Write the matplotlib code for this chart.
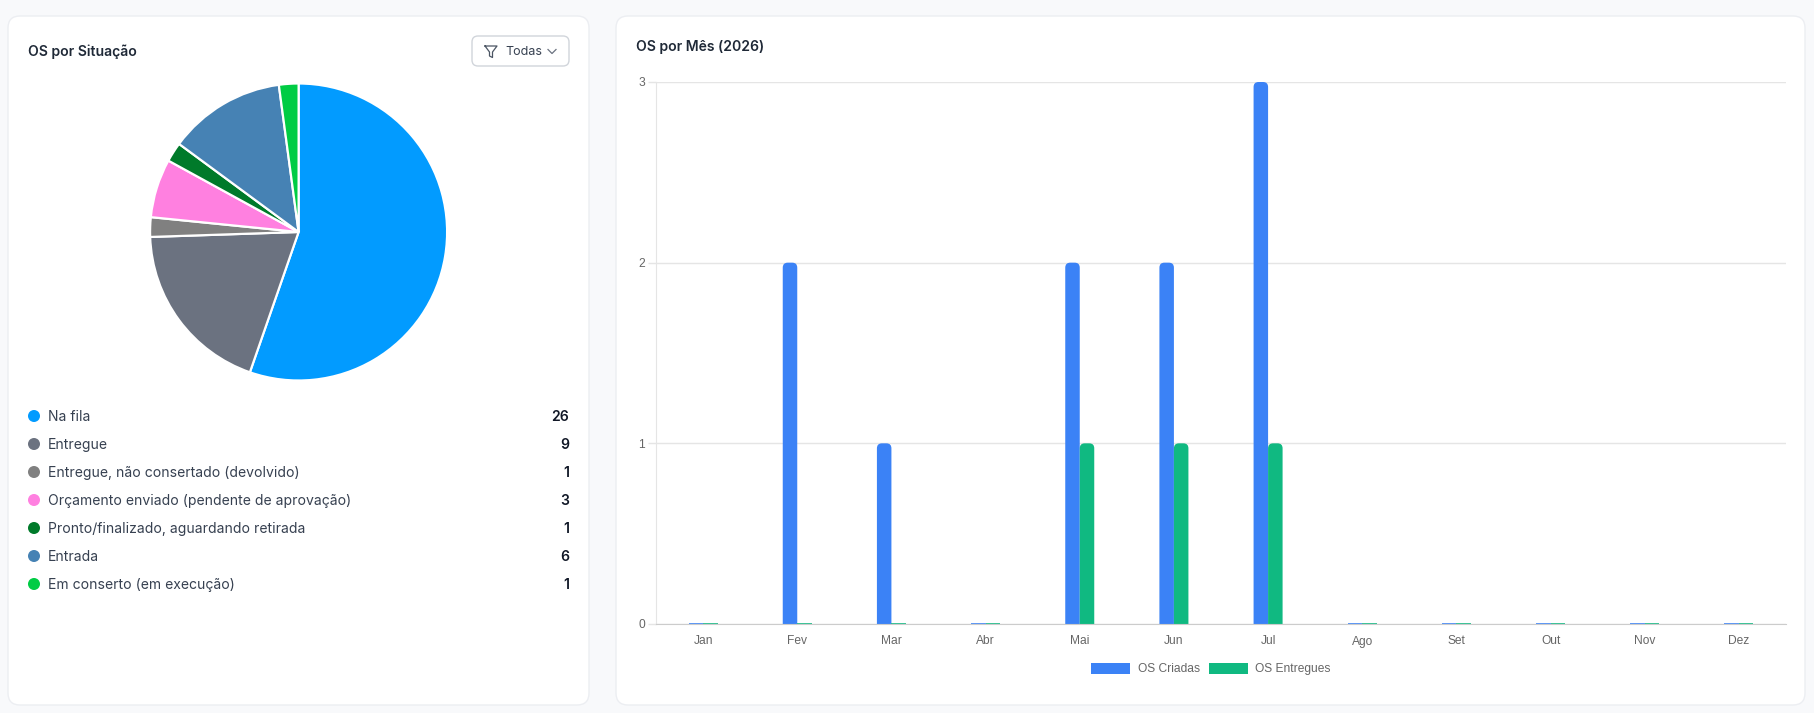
import matplotlib
matplotlib.use("Agg")
import matplotlib.pyplot as plt
from matplotlib.patches import FancyBboxPatch, Patch, Circle

W, H = 1815, 713
DPI = 100

# ---- data ----
situacoes = [
    "Na fila",
    "Entregue",
    "Entregue, não consertado (devolvido)",
    "Orçamento enviado (pendente de aprovação)",
    "Pronto/finalizado, aguardando retirada",
    "Entrada",
    "Em conserto (em execução)",
]
situacao_counts = [26, 9, 1, 3, 1, 6, 1]
situacao_colors = ["#029bff", "#6b7280", "#808080", "#ff80e0", "#007a2a", "#4682b4", "#00cc44"]

meses = ["Jan", "Fev", "Mar", "Abr", "Mai", "Jun", "Jul", "Ago", "Set", "Out", "Nov", "Dez"]
os_criadas = [0, 2, 1, 0, 2, 2, 3, 0, 0, 0, 0, 0]
os_entregues = [0, 0, 0, 0, 1, 1, 1, 0, 0, 0, 0, 0]
y_ticks = [0, 1, 2, 3]

BLUE = "#3b82f6"
GREEN = "#10b981"
UI_FONT = ["Inter", "DejaVu Sans"]
CHART_FONT = ["Liberation Sans", "DejaVu Sans"]


def pt(px):
    return px * 72.0 / DPI


def rect(x0, y0, x1, y1):
    # pixel box (top-left origin) -> figure fraction
    return [x0 / W, 1 - y1 / H, (x1 - x0) / W, (y1 - y0) / H]


fig = plt.figure(figsize=(W / DPI, H / DPI), dpi=DPI)
fig.patch.set_facecolor("#f8f9fb")

# ---- background cards ----
bg = fig.add_axes([0, 0, 1, 1], zorder=-1)
bg.set_xlim(0, W)
bg.set_ylim(H, 0)
bg.axis("off")
for (x0, y0, x1, y1) in [(8, 16, 589, 705), (616, 16, 1805, 705)]:
    bg.add_patch(FancyBboxPatch((x0, y0), x1 - x0, y1 - y0,
                                boxstyle="round,pad=0,rounding_size=12",
                                facecolor="white", edgecolor="#eceef2", linewidth=1))

bg.text(28, 52, "OS por Situação", fontsize=pt(14), fontweight="semibold",
        color="#1f2937", va="center", ha="left", family=UI_FONT)
bg.text(636, 47, "OS por Mês (2026)", fontsize=pt(14), fontweight="semibold",
        color="#1f2937", va="center", ha="left", family=UI_FONT)

# filter button
bg.add_patch(FancyBboxPatch((472, 36), 97, 30, boxstyle="round,pad=0,rounding_size=6",
                            facecolor="white", edgecolor="#d1d5db", linewidth=1))
fx = [485, 497, 492.5, 492.5, 489.5, 489.5, 485]
fy = [46, 46, 52, 57.5, 56, 52, 46]
bg.plot(fx, fy, color="#4b5563", linewidth=0.9, solid_joinstyle="round")
bg.text(505, 52, "Todas", fontsize=pt(12.5), color="#374151", va="center", ha="left", family=UI_FONT)
bg.plot([548, 552, 556], [49.5, 53.5, 49.5], color="#6b7280", linewidth=0.9)

# legend list for the pie
row_y0, row_step = 417, 28
for i, (lab, val, col) in enumerate(zip(situacoes, situacao_counts, situacao_colors)):
    yy = row_y0 + i * row_step
    bg.add_patch(Circle((34, yy - 1), 6, facecolor=col, edgecolor="none"))
    bg.text(48, yy, lab, fontsize=pt(14), color="#374151", va="center", ha="left", family=UI_FONT)
    bg.text(569, yy, str(val), fontsize=pt(14), fontweight="semibold", color="#111827",
            va="center", ha="right", family=UI_FONT)

# ---- pie ----
cx, cy, r = 298.6, 232, 148.5
ax_pie = fig.add_axes(rect(cx - r, cy - r, cx + r, cy + r))
ax_pie.pie(situacao_counts, colors=situacao_colors, startangle=90, counterclock=False,
           radius=1, wedgeprops=dict(edgecolor="white", linewidth=pt(2.2)))
ax_pie.set_xlim(-1.0, 1.0)
ax_pie.set_ylim(-1.0, 1.0)
ax_pie.set_aspect("equal")
ax_pie.axis("off")
for p in ax_pie.patches:
    p.set_clip_on(False)

# ---- bar chart ----
ax = fig.add_axes(rect(656, 82, 1786, 624))
ax.set_facecolor("none")
x = list(range(len(meses)))
bw = 0.154
bars_c = ax.bar([i - bw / 2 for i in x], os_criadas, bw, color=BLUE, linewidth=0)
bars_e = ax.bar([i + bw / 2 for i in x], os_entregues, bw, color=GREEN, linewidth=0)
ax.set_xlim(-0.5, len(meses) - 0.5)
ax.set_ylim(0, 3)

px_x = 1.0 / (1130 / len(meses))
px_y = 3.0 / 542
rad = 5
for bars, col in [(bars_c, BLUE), (bars_e, GREEN)]:
    for b in bars:
        h = b.get_height()
        b.set_visible(False)
        if h > 0:
            ax.add_patch(FancyBboxPatch((b.get_x(), -rad * px_y), b.get_width(), h + rad * px_y,
                                        boxstyle="round,pad=0,rounding_size=%f" % (rad * px_x),
                                        mutation_aspect=px_y / px_x,
                                        facecolor=col, edgecolor="none", zorder=2))
        else:
            ax.plot([b.get_x(), b.get_x() + b.get_width()], [0, 0], color=col,
                    linewidth=1.2, solid_capstyle="butt", clip_on=False, zorder=2)

ax.set_yticks(y_ticks)
ax.set_yticklabels([str(v) for v in y_ticks], family=CHART_FONT)
ax.set_xticks(x)
ax.set_xticklabels(meses, family=CHART_FONT)
ax.grid(axis="y", color="#e5e5e5", linewidth=1)
ax.set_axisbelow(True)
ax.tick_params(axis="y", length=pt(8), width=1, color="#e5e5e5", pad=pt(3),
               labelsize=pt(12), labelcolor="#666666")
ax.tick_params(axis="x", length=0, pad=pt(11.5), labelsize=pt(12), labelcolor="#666666")
for s in ["top", "right"]:
    ax.spines[s].set_visible(False)
ax.spines["left"].set_color("#e5e5e5")
ax.spines["bottom"].set_color("#cccccc")

handles = [Patch(facecolor=BLUE, label="OS Criadas"), Patch(facecolor=GREEN, label="OS Entregues")]
leg = ax.legend(handles=handles, loc="center", bbox_to_anchor=(1211 / W, 1 - 669 / H),
                bbox_transform=fig.transFigure, ncol=2, frameon=False,
                prop=dict(family=CHART_FONT, size=pt(12)),
                handlelength=3.25, handleheight=1.0, handletextpad=0.6, columnspacing=0.8)
for t in leg.get_texts():
    t.set_color("#666666")

fig.savefig("out.png", dpi=DPI, facecolor=fig.get_facecolor())
